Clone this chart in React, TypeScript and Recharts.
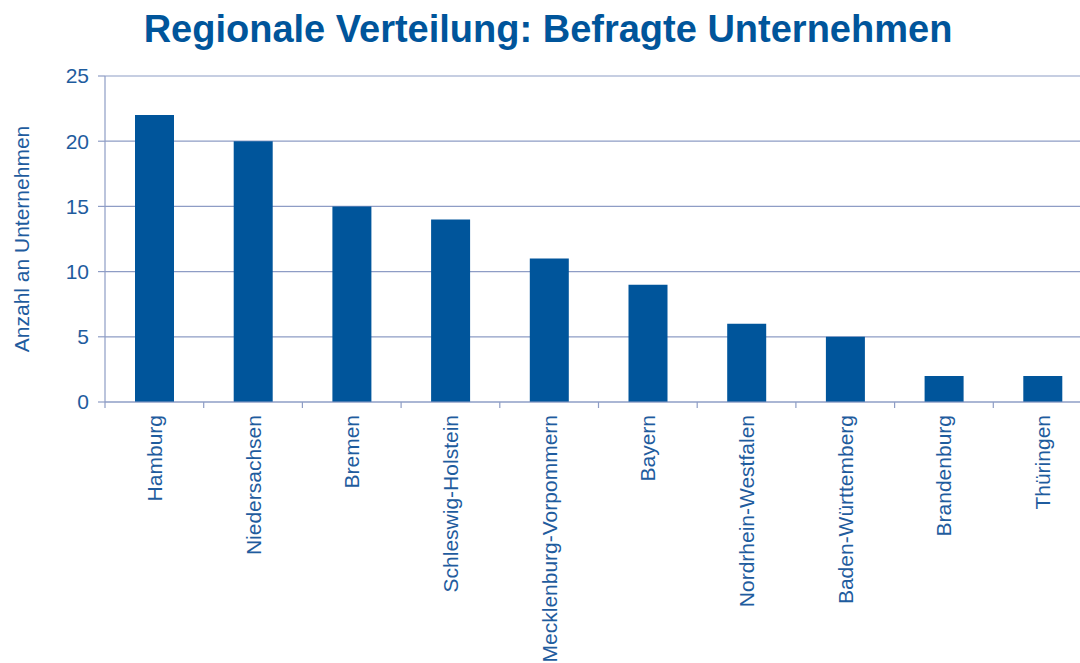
import React from "react";
import { BarChart, Bar, XAxis, YAxis, CartesianGrid, Label } from "recharts";

// Befragte Unternehmen je Bundesland
const regions = [
  "Hamburg",
  "Niedersachsen",
  "Bremen",
  "Schleswig-Holstein",
  "Mecklenburg-Vorpommern",
  "Bayern",
  "Nordrhein-Westfalen",
  "Baden-Württemberg",
  "Brandenburg",
  "Thüringen",
];
const companyCounts = [22, 20, 15, 14, 11, 9, 6, 5, 2, 2];
const yTicks = [0, 5, 10, 15, 20, 25];

const data = regions.map((name, i) => ({ name, count: companyCounts[i] }));

const BAR_COLOR = "#00559B";
const TEXT_COLOR = "#1F5C9E";
const AXIS_COLOR = "#8E9DC5";
const FONT = "'Liberation Sans', Arial, sans-serif";

// label rotated by 90°, plus the small tick marks between the categories
const RegionTick = (props: any) => {
  const { x, y, payload, index } = props;
  const half = payload.offset || 0;
  const ty = y + 13;
  return (
    <g>
      <line x1={x - half} y1={y} x2={x - half} y2={y + 6} stroke={AXIS_COLOR} strokeWidth={1.2} />
      {index === regions.length - 1 && (
        <line x1={x + half} y1={y} x2={x + half} y2={y + 6} stroke={AXIS_COLOR} strokeWidth={1.2} />
      )}
      <text
        x={x}
        y={ty}
        transform={`rotate(-90, ${x}, ${ty})`}
        textAnchor="end"
        dy="0.36em"
        fill={TEXT_COLOR}
        fontSize={21}
        fontFamily={FONT}
      >
        {payload.value}
      </text>
    </g>
  );
};

export default function App() {
  return (
    <div
      style={{
        position: "absolute",
        left: 0,
        top: 0,
        width: 1080,
        height: 663,
        overflow: "hidden",
        background: "#fff",
        fontFamily: FONT,
      }}
    >
      <div
        style={{
          position: "absolute",
          left: 0,
          top: 7,
          width: 1096,
          textAlign: "center",
          fontSize: 38,
          fontWeight: "bold",
          color: BAR_COLOR,
          lineHeight: "44px",
        }}
      >
        Regionale Verteilung: Befragte Unternehmen
      </div>
      <div style={{ position: "absolute", left: 0, top: 0 }}>
        <BarChart
          width={1100}
          height={663}
          data={data}
          margin={{ top: 76, right: 8, left: 0, bottom: 0 }}
        >
          <CartesianGrid horizontal vertical={false} stroke={AXIS_COLOR} strokeWidth={1.2} />
          <XAxis
            dataKey="name"
            interval={0}
            height={261}
            axisLine={{ stroke: AXIS_COLOR, strokeWidth: 1.2 }}
            tickLine={false}
            tickSize={0}
            tickMargin={0}
            tick={<RegionTick />}
          />
          <YAxis
            width={105}
            domain={[0, 25]}
            ticks={yTicks}
            interval={0}
            axisLine={{ stroke: AXIS_COLOR, strokeWidth: 1.2 }}
            tickLine={{ stroke: AXIS_COLOR, strokeWidth: 1.2 }}
            tickSize={7}
            tickMargin={9}
            tick={{ fill: TEXT_COLOR, fontSize: 21, fontFamily: FONT }}
          >
            <Label
              value="Anzahl an Unternehmen"
              angle={-90}
              position="center"
              dx={-31}
              dy={0}
              fill={TEXT_COLOR}
              fontSize={21}
              fontFamily={FONT}
            />
          </YAxis>
          <Bar
            dataKey="count"
            fill={BAR_COLOR}
            barSize={39}
            isAnimationActive={false}
          />
        </BarChart>
      </div>
    </div>
  );
}
